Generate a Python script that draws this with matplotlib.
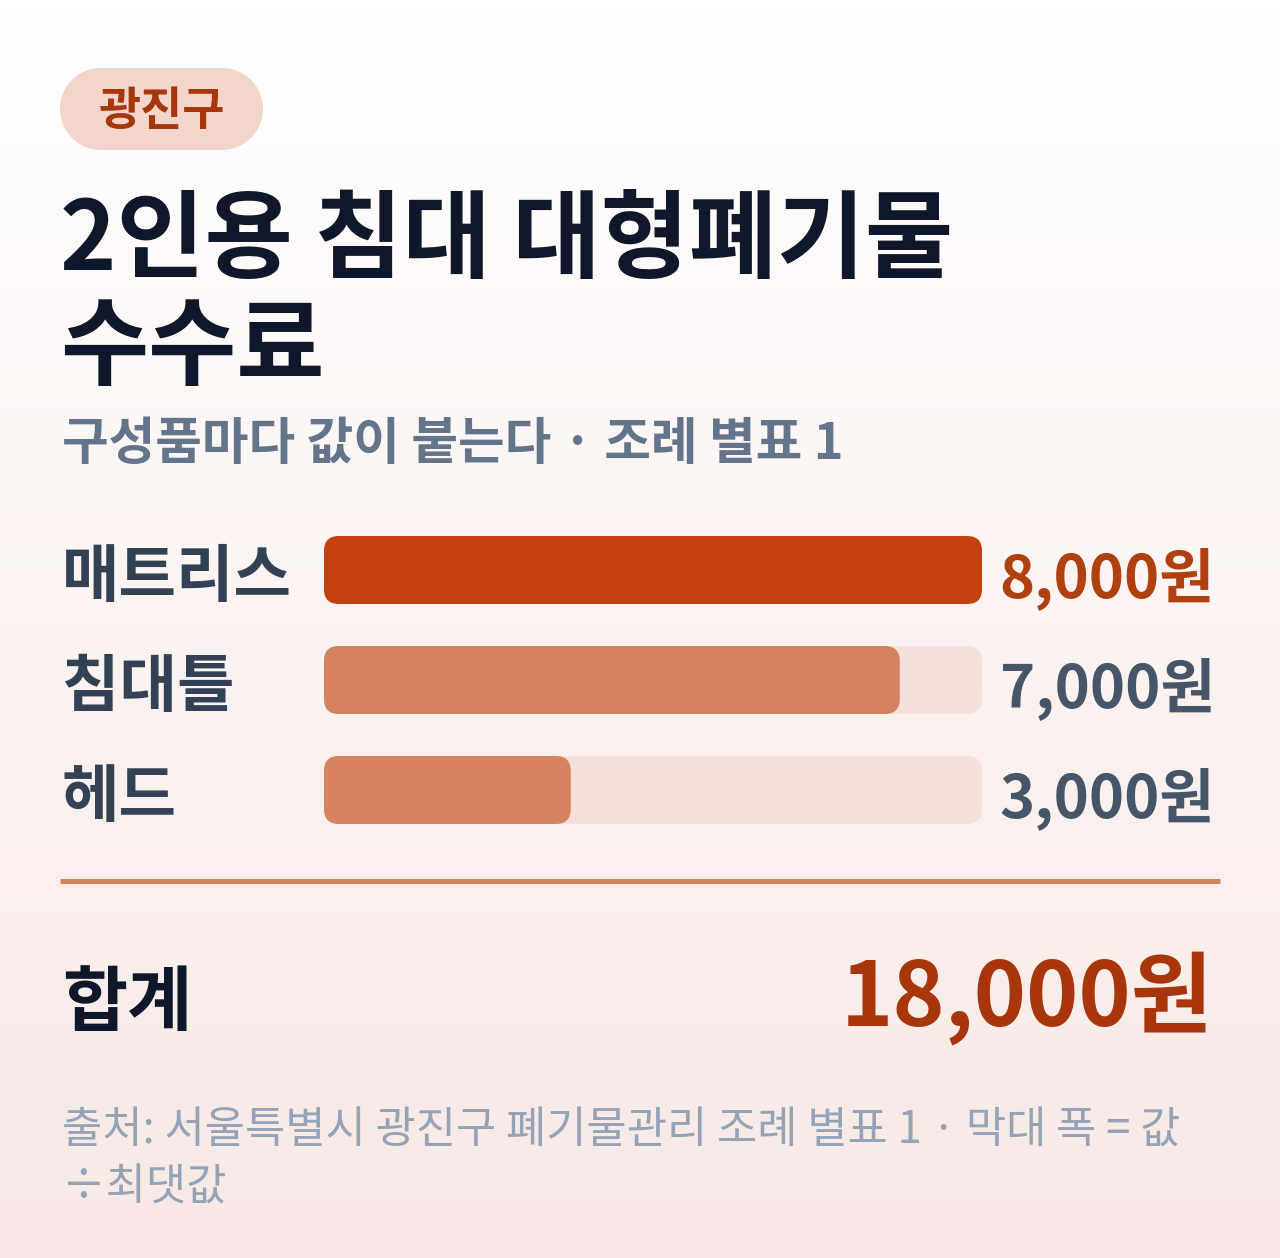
import matplotlib
matplotlib.use("Agg")
import matplotlib.pyplot as plt
import numpy as np
from matplotlib.patches import FancyBboxPatch, Rectangle, Circle
from matplotlib import transforms

plt.rcParams['font.family'] = ['Noto Sans CJK KR', 'DejaVu Sans']

# ---- data ----
badge = "광진구"
title = "2인용 침대 대형폐기물\n수수료"
subtitle = "구성품마다 값이 붙는다 · 조례 별표 1"
categories = ["매트리스", "침대틀", "헤드"]
values = [8000, 7000, 3000]
total_label = "합계"
footer = "출처: 서울특별시 광진구 폐기물관리 조례 별표 1 · 막대 폭 = 값\n÷최댓값"

W, H = 1280, 1258
fig = plt.figure(figsize=(W / 100, H / 100), dpi=100)

# background axes in pixel coordinates
bg = fig.add_axes([0, 0, 1, 1])
bg.set_xlim(0, W)
bg.set_ylim(H, 0)
bg.axis("off")
top = np.array([255, 255, 255]) / 255
bot = np.array([248, 233, 228]) / 255
t = np.linspace(0, 1, 256)[:, None]
grad = (top[None, :] * (1 - t) + bot[None, :] * t)[:, None, :]
bg.imshow(grad, extent=[0, W, H, 0], aspect="auto", zorder=0)

# badge pill
bx0, bx1, by0, by1 = 60, 263, 68, 150
rr = (by1 - by0) / 2
pill = "#f2d5cb"
bg.add_patch(Rectangle((bx0 + rr, by0), bx1 - bx0 - 2 * rr, by1 - by0, fc=pill, ec="none", zorder=1))
bg.add_patch(Circle((bx0 + rr, by0 + rr), rr, fc=pill, ec="none", zorder=1))
bg.add_patch(Circle((bx1 - rr, by0 + rr), rr, fc=pill, ec="none", zorder=1))
bg.text((bx0 + bx1) / 2, 112, badge, fontsize=33, fontweight="bold", color="#a8360c",
        ha="center", va="center", zorder=2)

# title & subtitle
bg.text(60, 193, title, fontsize=69, fontweight="bold", color="#0f172a",
        ha="left", va="top", linespacing=1.12, zorder=2)
bg.text(62, 444, subtitle, fontsize=36.5, fontweight="bold", color="#64748b",
        ha="left", va="center", zorder=2)

# bar axes
vmax = max(values)
L, R = 324, 982
y0, y1 = 515, 845
ax = fig.add_axes([L / W, 1 - y1 / H, (R - L) / W, (y1 - y0) / H])
ax.set_xlim(0, vmax)
ax.set_ylim(len(values) - 0.5, -0.5)
ax.axis("off")
ax.patch.set_alpha(0)

bar_h = 68 / 110
xu_per_px = vmax / (R - L)
yu_per_px = 1 / 110
r_px = 15
aspect = yu_per_px / xu_per_px

for i, v in enumerate(values):
    ax.add_patch(FancyBboxPatch((0, i - bar_h / 2), vmax, bar_h,
                                boxstyle=f"round,pad=0,rounding_size={r_px * xu_per_px}",
                                mutation_aspect=aspect, fc="#f5e1da", ec="none", zorder=1))
    col = "#c2410c" if v == vmax else "#d6845f"
    ax.add_patch(FancyBboxPatch((0, i - bar_h / 2), v, bar_h,
                                boxstyle=f"round,pad=0,rounding_size={r_px * xu_per_px}",
                                mutation_aspect=aspect, fc=col, ec="none", zorder=2))

trans = transforms.blended_transform_factory(bg.transData, ax.transData)
lab_off = transforms.offset_copy(trans, fig=fig, y=-7, units="dots")
val_off = transforms.offset_copy(trans, fig=fig, y=-9, units="dots")
for i, (c, v) in enumerate(zip(categories, values)):
    fig.text(62, i, c, transform=lab_off, fontsize=45, fontweight="bold",
             color="#334155", ha="left", va="center")
    vcol = "#b0400f" if v == vmax else "#475569"
    fig.text(1215, i, f"{v:,}원", transform=val_off, fontsize=43, fontweight="bold",
             color=vcol, ha="right", va="center")

# separator
bg.plot([60, 1220], [880.5, 880.5], color="#d6845f", lw=3.6, solid_capstyle="butt", zorder=2)

# total
bg.text(62, 1004, total_label, fontsize=51, fontweight="bold", color="#0f172a",
        ha="left", va="center", zorder=2)
bg.text(1213, 998, f"{sum(values):,}원", fontsize=64, fontweight="bold", color="#a8360c",
        ha="right", va="center", zorder=2)

# footer
bg.text(62, 1108, footer, fontsize=31.5, color="#94a3b8", ha="left", va="top",
        linespacing=1.3, zorder=2)

fig.savefig("out.png", dpi=100)
